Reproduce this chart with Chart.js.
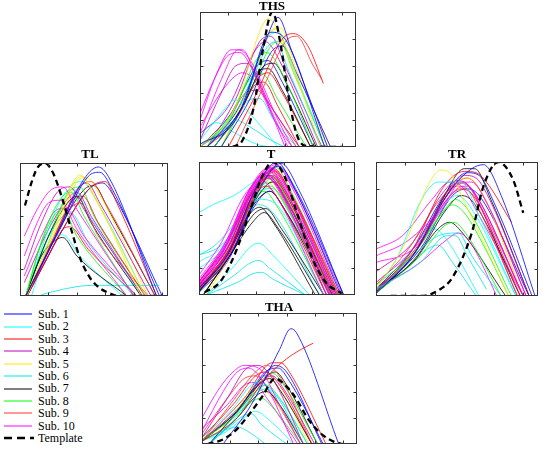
<!DOCTYPE html>
<html>
<head>
<meta charset="utf-8">
<script src="https://cdn.jsdelivr.net/npm/chart.js@4"></script>
<style>
  body { margin: 0; background: #fff; }
  #page { position: relative; width: 546px; height: 452px; overflow: hidden; }
  .panel { position: absolute; }
  .ttl { position: absolute; font-family: "Liberation Serif", "Times New Roman", Times, "DejaVu Serif", serif; font-weight: bold; font-size: 13px; color: #000; transform: translate(-50%, -50%); white-space: nowrap; z-index: 5; }
  #legend { position: absolute; left: 4px; top: 308px; font-family: "Liberation Serif", "Times New Roman", Times, "DejaVu Serif", serif; font-size: 12px; color: #000; }
  .row { height: 12.4px; line-height: 12.4px; display: flex; align-items: center; }
  .row svg { width: 30px; height: 10px; margin-right: 4px; }
</style>
</head>
<body>
<div id="page">
  <canvas id="ths" class="panel" width="160" height="139" style="left:198px;top:10px"></canvas>
  <canvas id="tl" class="panel" width="152" height="137" style="left:18px;top:161px"></canvas>
  <canvas id="t" class="panel" width="160" height="137" style="left:197px;top:160px"></canvas>
  <canvas id="tr" class="panel" width="166" height="138" style="left:374px;top:160px"></canvas>
  <canvas id="tha" class="panel" width="159" height="135" style="left:200px;top:311px"></canvas>
  <div class="ttl" style="left:272px;top:6px">THS</div>
  <div class="ttl" style="left:90px;top:154px">TL</div>
  <div class="ttl" style="left:271px;top:154px">T</div>
  <div class="ttl" style="left:457px;top:154px">TR</div>
  <div class="ttl" style="left:279px;top:307px">THA</div>
  <div id="legend"></div>
</div>
<script>
const subjectLabels = ['Sub. 1', 'Sub. 2', 'Sub. 3', 'Sub. 4', 'Sub. 5', 'Sub. 6', 'Sub. 7', 'Sub. 8', 'Sub. 9', 'Sub. 10'];
const subjectColors = ['#0000ff', '#00ffff', '#ff0000', '#bf00bf', '#ffe600', '#00e5e5', '#000000', '#00ff00', '#ff3030', '#ff00ff'];
const templateLabel = 'Template';
const xTicks = [20, 40, 60, 80, 100];
const yTicks = [0.2, 0.4, 0.6, 0.8];

// templates: x,y pairs
const thsTemplate = [23,0, 30,0.05, 38,0.3, 44,0.7, 51,1, 57,0.75, 62,0.4, 68,0.1, 74,0.01, 100,0];
const tlTemplate = [3.5,0.68, 8,0.85, 12,0.96, 17.5,1, 23,0.93, 29.5,0.74, 36,0.5, 42,0.29, 49,0.14, 56,0.06, 63,0.02, 69,0, 100,0];
const tTemplate = [4,0.02, 15,0.1, 25,0.3, 35,0.6, 44,0.88, 52,1, 60,0.9, 69,0.62, 79,0.3, 89,0.1, 101,0.01];
const trTemplate = [10,0, 31,0, 42,0.04, 52,0.14, 65,0.47, 73,0.82, 83,1, 93,0.87, 100,0.62];
const thaTemplate = [4,0, 14,0.03, 23.5,0.1, 33,0.22, 42.6,0.36, 52,0.5, 59,0.45, 66,0.36, 76,0.18, 85.5,0.07, 93,0.02, 100,0];

// subject curves: [subject, x,y, x,y, ...]
const thsCurves = [
  [1, 0,0.02, 25,0.2, 45,0.75, 55,0.96, 65,0.7, 90,0],
  [1, 5,0, 30,0.3, 50,0.85, 60,0.8, 88,0],
  [3, 20,0, 40,0.4, 58,0.8, 66,0.84, 76,0.75, 87,0.47],
  [9, 25,0, 45,0.45, 62,0.8, 68,0.82, 80,0.6, 86,0.5],
  [5, 0,0, 25,0.3, 42,0.85, 48,0.95, 58,0.8, 85,0],
  [10, 0,0.2, 12,0.55, 22,0.72, 30,0.72, 40,0.5, 62,0],
  [10, 0,0.1, 15,0.5, 27,0.72, 35,0.65, 55,0.2, 65,0],
  [4, 0,0.05, 15,0.4, 25,0.6, 33,0.62, 50,0.3, 70,0],
  [2, 0,0.05, 15,0.25, 25,0.35, 35,0.25, 55,0],
  [6, 10,0, 25,0.2, 35,0.15, 50,0.05, 60,0],
  [8, 5,0, 25,0.3, 40,0.65, 47,0.7, 60,0.5, 80,0],
  [8, 0,0, 20,0.2, 35,0.5, 43,0.55, 55,0.35, 75,0],
  [7, 10,0, 30,0.3, 45,0.6, 52,0.62, 62,0.45, 82,0],
  [2, 5,0, 30,0.35, 47,0.8, 55,0.85, 65,0.6, 88,0],
  [6, 10,0, 30,0.3, 45,0.7, 53,0.78, 63,0.55, 85,0],
  [4, 0,0.1, 20,0.3, 38,0.7, 46,0.78, 58,0.6, 83,0],
  [3, 10,0, 28,0.25, 38,0.45, 45,0.48, 55,0.3, 70,0],
  [1, 15,0, 35,0.35, 50,0.7, 58,0.75, 68,0.55, 92,0],
  [5, 10,0, 30,0.3, 47,0.82, 54,0.88, 64,0.6, 90,0],
  [9, 0,0, 18,0.15, 32,0.4, 40,0.42, 50,0.3, 68,0],
  [10, 0,0.15, 18,0.45, 30,0.55, 38,0.5, 55,0.15, 65,0],
  [7, 5,0, 25,0.25, 40,0.55, 48,0.58, 58,0.42, 78,0],
  [8, 15,0, 35,0.4, 50,0.75, 56,0.78, 66,0.55, 88,0],
  [2, 0,0.1, 12,0.18, 22,0.12, 40,0.02, 50,0],
  [4, 5,0, 25,0.35, 42,0.78, 50,0.82, 60,0.6, 86,0],
  [6, 0,0.02, 20,0.15, 35,0.35, 42,0.36, 52,0.2, 68,0],
  [1, 0,0, 22,0.25, 40,0.6, 48,0.64, 58,0.48, 80,0],
  [3, 5,0, 25,0.2, 40,0.5, 48,0.55, 58,0.4, 78,0],
  [10, 0,0.25, 10,0.5, 20,0.68, 28,0.7, 38,0.55, 60,0],
  [5, 15,0, 35,0.45, 50,0.85, 57,0.88, 67,0.6, 92,0]
];

const tlCurves = [
  [1, 4,0, 25,0.45, 45,0.88, 55,0.97, 62,0.9, 96,0],
  [1, 4,0, 28,0.5, 48,0.9, 56,0.93, 65,0.8, 98,0],
  [5, 4,0, 22,0.45, 37,0.85, 42,0.91, 50,0.8, 85,0],
  [5, 5,0, 25,0.5, 38,0.85, 44,0.9, 52,0.75, 88,0],
  [10, 3,0.45, 12,0.65, 22,0.8, 30,0.82, 40,0.65, 80,0],
  [10, 3,0.3, 12,0.55, 20,0.7, 28,0.72, 40,0.5, 75,0],
  [4, 3,0.2, 15,0.55, 28,0.8, 35,0.82, 45,0.65, 85,0.02],
  [3, 5,0, 30,0.5, 50,0.82, 60,0.86, 68,0.7, 96,0],
  [9, 5,0, 20,0.35, 35,0.65, 42,0.7, 55,0.45, 90,0],
  [8, 4,0, 15,0.4, 25,0.62, 30,0.65, 40,0.45, 75,0],
  [8, 4,0, 18,0.5, 30,0.75, 36,0.78, 45,0.6, 80,0],
  [7, 4,0, 15,0.3, 25,0.42, 30,0.44, 40,0.3, 75,0],
  [7, 4,0, 20,0.45, 35,0.72, 40,0.75, 50,0.55, 85,0],
  [2, 4,0, 20,0.5, 32,0.78, 38,0.8, 48,0.62, 85,0],
  [6, 15,0.01, 30,0.05, 50,0.08, 70,0.08, 98,0.08],
  [2, 4,0, 15,0.3, 25,0.45, 30,0.46, 42,0.3, 72,0],
  [1, 5,0, 30,0.5, 48,0.8, 58,0.85, 66,0.75, 100,0],
  [4, 5,0, 25,0.45, 40,0.8, 47,0.85, 56,0.7, 92,0],
  [3, 4,0, 22,0.4, 37,0.72, 44,0.75, 55,0.55, 88,0],
  [10, 3,0.15, 15,0.45, 26,0.65, 32,0.66, 45,0.45, 82,0],
  [9, 5,0, 25,0.45, 42,0.82, 50,0.86, 60,0.7, 95,0],
  [8, 4,0, 22,0.5, 36,0.8, 42,0.82, 52,0.6, 88,0],
  [6, 4,0, 18,0.4, 30,0.6, 36,0.62, 48,0.4, 80,0],
  [5, 5,0, 28,0.55, 42,0.88, 47,0.89, 55,0.78, 90,0],
  [7, 5,0, 25,0.45, 45,0.8, 52,0.83, 62,0.65, 95,0],
  [2, 8,0, 25,0.55, 38,0.85, 44,0.86, 52,0.75, 88,0],
  [4, 3,0.1, 20,0.5, 35,0.75, 40,0.78, 50,0.6, 86,0],
  [3, 5,0, 20,0.3, 30,0.5, 35,0.52, 48,0.35, 82,0]
];

const tCurves = [
  [1, 0,0.05, 20,0.3, 40,0.8, 55,1.0, 65,0.85, 100,0],
  [1, 0,0.03, 22,0.3, 42,0.78, 56,0.97, 68,0.8, 102,0],
  [10, 0,0.08, 18,0.35, 35,0.78, 48,0.95, 58,0.85, 92,0],
  [10, 0,0.1, 20,0.4, 38,0.82, 50,0.96, 60,0.85, 95,0],
  [10, 0,0.06, 16,0.3, 34,0.72, 46,0.9, 56,0.8, 90,0],
  [10, 0,0.12, 20,0.42, 36,0.8, 47,0.92, 58,0.78, 93,0],
  [10, 0,0.05, 22,0.35, 40,0.8, 52,0.94, 62,0.8, 97,0],
  [4, 0,0.1, 18,0.35, 36,0.75, 48,0.9, 58,0.78, 92,0],
  [4, 0,0.07, 20,0.35, 38,0.78, 50,0.93, 60,0.8, 96,0],
  [3, 0,0.05, 20,0.32, 38,0.75, 50,0.9, 60,0.78, 94,0],
  [3, 0,0.08, 22,0.35, 40,0.8, 53,0.95, 63,0.8, 98,0],
  [9, 0,0.06, 18,0.3, 36,0.72, 48,0.88, 58,0.75, 92,0],
  [9, 0,0.1, 20,0.38, 38,0.8, 50,0.92, 60,0.78, 95,0],
  [9, 0,0.04, 24,0.35, 42,0.8, 54,0.93, 64,0.78, 99,0],
  [3, 0,0.03, 20,0.28, 36,0.68, 47,0.82, 57,0.7, 90,0],
  [10, 0,0.15, 16,0.4, 32,0.75, 44,0.86, 54,0.75, 88,0],
  [10, 0,0.09, 24,0.42, 42,0.85, 54,0.98, 64,0.84, 99,0],
  [4, 0,0.05, 24,0.38, 42,0.82, 55,0.97, 66,0.82, 101,0],
  [2, 0,0.62, 10,0.68, 25,0.75, 40,0.86, 50,0.9, 60,0.8, 95,0],
  [2, 0,0.2, 15,0.32, 30,0.55, 42,0.72, 52,0.7, 88,0],
  [6, 0,0.3, 12,0.38, 28,0.58, 42,0.78, 52,0.8, 62,0.65, 95,0],
  [6, 5,0, 25,0.15, 36,0.24, 42,0.26, 50,0.2, 75,0],
  [2, 5,0, 25,0.22, 36,0.36, 42,0.39, 52,0.3, 78,0],
  [6, 5,0, 28,0.1, 38,0.16, 44,0.17, 52,0.12, 75,0],
  [7, 3,0, 22,0.3, 38,0.55, 46,0.62, 56,0.5, 85,0],
  [7, 3,0, 22,0.3, 38,0.6, 47,0.65, 58,0.5, 88,0],
  [7, 0,0.02, 25,0.4, 42,0.75, 52,0.85, 62,0.7, 95,0],
  [7, 0,0.03, 20,0.3, 35,0.6, 43,0.66, 52,0.55, 82,0],
  [8, 0,0.02, 20,0.3, 38,0.7, 50,0.82, 60,0.7, 90,0],
  [8, 0,0.04, 18,0.28, 35,0.65, 46,0.78, 56,0.65, 88,0],
  [8, 0,0.05, 22,0.35, 40,0.75, 52,0.88, 62,0.72, 93,0],
  [5, 5,0, 22,0.3, 40,0.78, 52,0.93, 62,0.78, 96,0],
  [5, 3,0, 20,0.3, 38,0.72, 48,0.85, 58,0.72, 92,0],
  [1, 0,0.03, 25,0.35, 45,0.85, 58,0.99, 70,0.8, 102,0],
  [1, 0,0.02, 20,0.25, 38,0.65, 50,0.78, 60,0.65, 94,0],
  [10, 0,0.1, 18,0.38, 35,0.78, 46,0.9, 56,0.8, 90,0],
  [10, 0,0.07, 20,0.36, 38,0.8, 50,0.94, 60,0.82, 96,0],
  [3, 0,0.1, 20,0.4, 38,0.82, 50,0.95, 61,0.82, 97,0],
  [9, 0,0.08, 20,0.35, 38,0.78, 50,0.9, 60,0.76, 93,0],
  [4, 0,0.05, 22,0.35, 40,0.78, 50,0.88, 60,0.75, 94,0],
  [10, 0,0.04, 22,0.32, 40,0.76, 52,0.9, 62,0.76, 97,0],
  [2, 0,0.25, 15,0.35, 30,0.6, 44,0.82, 54,0.85, 64,0.7, 98,0],
  [6, 0,0.3, 14,0.36, 30,0.55, 42,0.68, 52,0.62, 85,0],
  [8, 0,0.02, 24,0.4, 42,0.82, 54,0.96, 64,0.8, 98,0],
  [7, 0,0.03, 22,0.35, 40,0.7, 50,0.78, 60,0.65, 92,0]
];

const trCurves = [
  [1, 0,0.02, 25,0.3, 50,0.78, 65,0.95, 73,0.98, 85,0.75, 108,0],
  [5, 0,0.05, 20,0.4, 35,0.82, 44,0.94, 50,0.92, 60,0.7, 90,0],
  [2, 0,0.05, 15,0.3, 30,0.7, 42,0.85, 58,0.85, 70,0.6, 95,0],
  [6, 0,0.02, 25,0.3, 45,0.46, 56,0.47, 65,0.3, 85,0],
  [6, 0,0.05, 30,0.25, 48,0.45, 54,0.45, 62,0.3, 75,0.05],
  [10, 0,0.3, 20,0.4, 40,0.6, 55,0.8, 62,0.82, 72,0.65, 100,0],
  [10, 0,0.25, 25,0.35, 45,0.65, 58,0.85, 65,0.85, 75,0.7, 102,0],
  [10, 0,0.05, 30,0.25, 48,0.42, 56,0.47, 64,0.4, 82,0],
  [4, 0,0.1, 25,0.35, 48,0.75, 60,0.9, 68,0.88, 78,0.7, 104,0],
  [4, 0,0.05, 25,0.3, 45,0.7, 57,0.85, 65,0.8, 100,0],
  [3, 0,0.03, 25,0.35, 45,0.8, 60,0.93, 68,0.92, 75,0.85, 92,0.55],
  [3, 0,0.05, 28,0.35, 48,0.72, 58,0.8, 66,0.75, 78,0.5, 98,0],
  [9, 0,0.08, 22,0.35, 42,0.7, 55,0.82, 62,0.8, 72,0.6, 96,0],
  [9, 0,0.04, 25,0.3, 45,0.7, 58,0.84, 66,0.78, 100,0],
  [8, 0,0.05, 25,0.3, 42,0.58, 52,0.68, 60,0.62, 72,0.4, 90,0],
  [8, 0,0.08, 28,0.35, 45,0.62, 54,0.72, 62,0.65, 92,0],
  [8, 0,0.02, 30,0.3, 46,0.52, 53,0.55, 62,0.45, 85,0],
  [7, 0,0.03, 25,0.3, 45,0.72, 60,0.95, 67,0.95, 78,0.72, 104,0],
  [7, 0,0.02, 28,0.3, 48,0.65, 58,0.75, 66,0.7, 98,0],
  [7, 0,0.05, 25,0.25, 42,0.5, 50,0.55, 58,0.48, 88,0],
  [5, 0,0.02, 28,0.35, 48,0.75, 60,0.88, 67,0.85, 100,0],
  [2, 0,0.02, 15,0.2, 32,0.45, 40,0.5, 48,0.42, 70,0],
  [2, 0,0.03, 25,0.3, 45,0.66, 55,0.75, 63,0.68, 95,0],
  [1, 0,0.05, 25,0.35, 48,0.78, 62,0.92, 70,0.9, 80,0.7, 106,0],
  [10, 0,0.35, 18,0.45, 38,0.72, 50,0.85, 58,0.82, 70,0.6, 100,0],
  [4, 0,0.18, 25,0.4, 44,0.75, 55,0.86, 63,0.82, 96,0],
  [3, 0,0.03, 30,0.4, 50,0.8, 62,0.88, 70,0.8, 102,0],
  [1, 0,0.02, 30,0.35, 52,0.75, 62,0.8, 70,0.75, 104,0],
  [6, 0,0.06, 20,0.2, 35,0.35, 42,0.38, 52,0.25, 68,0]
];

const thaCurves = [
  [1, 15,0, 35,0.3, 55,0.72, 63,0.88, 67,0.85, 97,0],
  [3, 0,0.02, 25,0.2, 45,0.5, 60,0.65, 70,0.72, 79,0.77],
  [10, 0,0.2, 12,0.42, 22,0.55, 30,0.6, 40,0.58, 55,0.3, 70,0],
  [10, 0,0.1, 15,0.4, 25,0.55, 33,0.58, 45,0.45, 65,0],
  [4, 0,0.05, 18,0.35, 32,0.58, 40,0.6, 50,0.5, 72,0],
  [9, 0,0.02, 20,0.3, 38,0.55, 46,0.6, 56,0.5, 78,0],
  [1, 5,0, 25,0.25, 42,0.5, 52,0.6, 60,0.55, 85,0],
  [2, 5,0, 20,0.15, 35,0.35, 45,0.42, 55,0.35, 75,0],
  [6, 0,0.02, 15,0.1, 25,0.13, 32,0.1, 45,0],
  [6, 5,0, 25,0.2, 38,0.4, 44,0.45, 52,0.38, 72,0],
  [8, 5,0, 22,0.2, 38,0.4, 46,0.45, 55,0.35, 75,0],
  [8, 0,0.03, 20,0.18, 35,0.32, 42,0.35, 50,0.28, 70,0],
  [7, 0,0.02, 22,0.22, 40,0.45, 48,0.5, 56,0.4, 78,0],
  [7, 5,0, 25,0.2, 40,0.38, 46,0.4, 55,0.3, 72,0],
  [5, 5,0, 22,0.22, 38,0.45, 46,0.5, 55,0.42, 76,0],
  [5, 0,0.02, 20,0.2, 35,0.38, 42,0.42, 52,0.32, 72,0],
  [3, 0,0.05, 22,0.3, 38,0.52, 45,0.55, 55,0.45, 78,0],
  [9, 0,0.08, 18,0.35, 30,0.5, 38,0.52, 48,0.4, 70,0],
  [4, 0,0.03, 25,0.25, 42,0.48, 50,0.52, 58,0.42, 80,0],
  [2, 0,0.05, 20,0.25, 35,0.45, 42,0.48, 50,0.38, 72,0],
  [10, 0,0.12, 18,0.3, 30,0.45, 37,0.47, 46,0.35, 68,0],
  [1, 0,0.02, 28,0.3, 45,0.55, 54,0.58, 62,0.48, 86,0],
  [8, 0,0.02, 25,0.25, 42,0.5, 50,0.54, 58,0.45, 82,0],
  [6, 0,0.03, 18,0.12, 30,0.22, 35,0.23, 42,0.15, 60,0],
  [3, 0,0.02, 30,0.35, 50,0.62, 56,0.62, 62,0.55, 88,0],
  [7, 0,0.02, 28,0.28, 44,0.5, 52,0.55, 60,0.45, 82,0],
  [2, 0,0.03, 15,0.08, 30,0.2, 38,0.25, 48,0.18, 65,0]
];

function toPoints(flat, start) {
  var pts = [];
  for (var i = start; i < flat.length; i += 2) {
    pts.push({ x: flat[i], y: flat[i + 1] });
  }
  return pts;
}

// matlab style box with inward ticks
const boxPlugin = {
  id: 'boxPlugin',
  afterDraw(chart) {
    const ctx = chart.ctx;
    const a = chart.chartArea;
    const xs = chart.scales.x, ys = chart.scales.y;
    const L = Math.round(a.left) + 0.5, R = Math.round(a.right) - 0.5;
    const T = Math.round(a.top) + 0.5, B = Math.round(a.bottom) - 0.5;
    ctx.save();
    ctx.strokeStyle = '#333';
    ctx.lineWidth = 1;
    ctx.strokeRect(L, T, R - L, B - T);
    ctx.beginPath();
    xTicks.forEach(function (v) {
      if (v >= xs.max) return;
      const px = Math.round(xs.getPixelForValue(v)) + 0.5;
      ctx.moveTo(px, B); ctx.lineTo(px, B - 3);
      ctx.moveTo(px, T); ctx.lineTo(px, T + 3);
    });
    yTicks.forEach(function (v) {
      const py = Math.round(ys.getPixelForValue(v)) + 0.5;
      ctx.moveTo(L, py); ctx.lineTo(L + 3, py);
      ctx.moveTo(R, py); ctx.lineTo(R - 3, py);
    });
    ctx.stroke();
    ctx.restore();
  }
};

function makePanel(id, curves, template, xMax) {
  var datasets = [{
    data: toPoints(template, 0),
    borderColor: '#000',
    borderWidth: 2.3,
    borderDash: [6, 4],
    pointRadius: 0,
    fill: false,
    cubicInterpolationMode: 'monotone'
  }];
  for (var i = 0; i < curves.length; i++) {
    datasets.push({
      data: toPoints(curves[i], 1),
      borderColor: subjectColors[curves[i][0] - 1],
      borderWidth: 0.8,
      pointRadius: 0,
      fill: false,
      cubicInterpolationMode: 'monotone'
    });
  }
  new Chart(document.getElementById(id), {
    type: 'line',
    data: { datasets: datasets },
    options: {
      responsive: false,
      animation: false,
      events: [],
      layout: { padding: 2 },
      plugins: { legend: { display: false }, tooltip: { enabled: false } },
      scales: {
        x: { type: 'linear', min: 0, max: xMax, display: false },
        y: { type: 'linear', min: 0, max: 1, display: false }
      }
    },
    plugins: [boxPlugin]
  });
}

makePanel('ths', thsCurves, thsTemplate, 110);
makePanel('tl', tlCurves, tlTemplate, 104);
makePanel('t', tCurves, tTemplate, 110);
makePanel('tr', trCurves, trTemplate, 110);
makePanel('tha', thaCurves, thaTemplate, 110);

// legend
var html = '';
for (var k = 0; k < subjectLabels.length; k++) {
  html += '<div class="row"><svg><line x1="0" y1="5" x2="28" y2="5" stroke="' + subjectColors[k] + '" stroke-width="1"/></svg>' + subjectLabels[k] + '</div>';
}
html += '<div class="row"><svg><line x1="0" y1="5" x2="30" y2="5" stroke="#000" stroke-width="2.5" stroke-dasharray="8,5"/></svg>' + templateLabel + '</div>';
document.getElementById('legend').innerHTML = html;
</script>
</body>
</html>
